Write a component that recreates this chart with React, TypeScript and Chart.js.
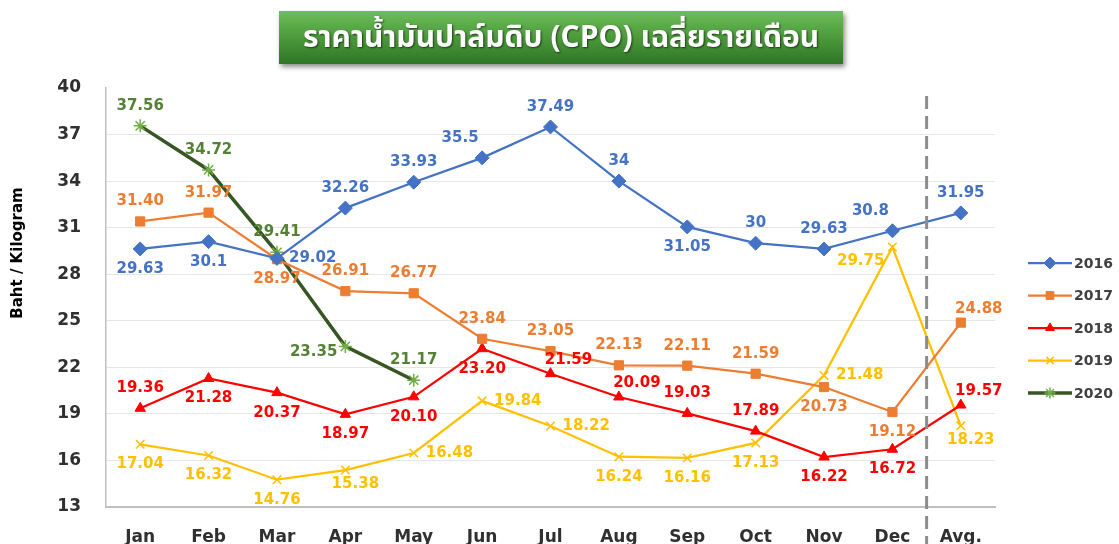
import React, { useEffect, useRef } from 'react';
import { Chart, registerables } from 'chart.js';
import { drawPoint } from 'chart.js/helpers';

Chart.register(...registerables);

const titleText = 'ราคาน้ำมันปาล์มดิบ (CPO) เฉลี่ยรายเดือน';
const yAxisTitle = 'Baht / Kilogram';
const categories = ['Jan', 'Feb', 'Mar', 'Apr', 'May', 'Jun', 'Jul', 'Aug', 'Sep', 'Oct', 'Nov', 'Dec', 'Avg.'];
const yMin = 13;
const yMax = 40;
const yStep = 3;

const seriesNames = ['2016', '2017', '2018', '2019', '2020'];
const values2016 = [29.63, 30.1, 29.02, 32.26, 33.93, 35.5, 37.49, 34, 31.05, 30, 29.63, 30.8, 31.95];
const values2017 = [31.4, 31.97, 28.97, 26.91, 26.77, 23.84, 23.05, 22.13, 22.11, 21.59, 20.73, 19.12, 24.88];
const values2018 = [19.36, 21.28, 20.37, 18.97, 20.1, 23.2, 21.59, 20.09, 19.03, 17.89, 16.22, 16.72, 19.57];
const values2019 = [17.04, 16.32, 14.76, 15.38, 16.48, 19.84, 18.22, 16.24, 16.16, 17.13, 21.48, 29.75, 18.23];
const values2020 = [37.56, 34.72, 29.41, 23.35, 21.17, null, null, null, null, null, null, null, null];

// label placement codes per point
const place2016 = ['b', 'b', 'r', 't', 't', 'tl', 't', 't', 'b', 't', 't', 'tl', 't'];
const place2017 = ['t', 't', 'b', 't', 't', 't', 't', 't', 't', 't', 'b', 'b', 'tr'];
const place2018 = ['t', 'b', 'b', 'b', 'b', 'b', 'tr', 'tr', 't', 't', 'b', 'b', 'tr'];
const place2019 = ['b', 'b', 'b', 'br', 'r', 'r', 'r', 'b', 'b', 'b', 'r', 'bl', 'br'];
const place2020 = ['t', 't', 't', 'l', 't', '', '', '', '', '', '', '', ''];

const FONT = '"DejaVu Sans", Verdana, sans-serif';

const labelFormats = [
  (v: number) => String(v),
  (v: number) => v.toFixed(2),
  (v: number) => v.toFixed(2),
  (v: number) => v.toFixed(2),
  (v: number) => v.toFixed(2),
];

const labelColors = ['#4472C4', '#ED7D31', '#FF0000', '#FFC000', '#548235'];
const placements = [place2016, place2017, place2018, place2019, place2020];

const dataLabelPlugin = {
  id: 'dataLabels',
  afterDatasetsDraw(chart: any) {
    const ctx = chart.ctx;
    ctx.save();
    ctx.font = `bold 15px ${FONT}`;
    ctx.textBaseline = 'middle';
    chart.data.datasets.forEach((ds: any, di: number) => {
      const meta = chart.getDatasetMeta(di);
      ctx.fillStyle = labelColors[di];
      ds.data.forEach((v: number | null, i: number) => {
        if (v === null || v === undefined) return;
        const el = meta.data[i];
        const p = placements[di][i];
        const txt = labelFormats[di](v);
        let x = el.x;
        let y = el.y;
        let align: CanvasTextAlign = 'center';
        switch (p) {
          case 't': y -= 20; break;
          case 'b': y += 20; break;
          case 'l': x -= 8; y += 6; align = 'right'; break;
          case 'r': x += 12; align = 'left'; break;
          case 'tl': x -= 22; y -= 20; break;
          case 'tr': x += 18; y -= 14; break;
          case 'bl': x -= 8; y += 14; align = 'right'; break;
          case 'br': x += 10; y += 14; break;
        }
        ctx.textAlign = align;
        ctx.fillText(txt, x, y);
      });
    });
    ctx.restore();
  },
};

const dividerPlugin = {
  id: 'divider',
  afterDraw(chart: any) {
    const ctx = chart.ctx;
    const xs = chart.scales.x;
    const x = (xs.getPixelForValue(categories.length - 2) + xs.getPixelForValue(categories.length - 1)) / 2;
    ctx.save();
    ctx.strokeStyle = '#8C8C8C';
    ctx.lineWidth = 3;
    ctx.setLineDash([13, 7]);
    ctx.beginPath();
    ctx.moveTo(x, chart.chartArea.top + 8);
    ctx.lineTo(x, chart.height);
    ctx.stroke();
    ctx.restore();
  },
};

const yTitlePlugin = {
  id: 'yTitle',
  afterDraw(chart: any) {
    const ctx = chart.ctx;
    ctx.save();
    ctx.translate(18, chart.chartArea.top + 165);
    ctx.rotate(-Math.PI / 2);
    ctx.font = `bold 15px ${FONT}`;
    ctx.fillStyle = '#000000';
    ctx.textAlign = 'center';
    ctx.textBaseline = 'middle';
    ctx.fillText(yAxisTitle, 0, 0);
    ctx.restore();
  },
};

const legendPlugin = {
  id: 'customLegend',
  afterDraw(chart: any) {
    const ctx = chart.ctx;
    const x0 = chart.chartArea.right + 33;
    const x1 = x0 + 44;
    const y0 = chart.chartArea.top + 175;
    ctx.save();
    chart.data.datasets.forEach((ds: any, i: number) => {
      const y = y0 + i * 32.5;
      ctx.strokeStyle = ds.borderColor;
      ctx.lineWidth = ds.borderWidth;
      ctx.setLineDash([]);
      ctx.beginPath();
      ctx.moveTo(x0, y);
      ctx.lineTo(x1, y);
      ctx.stroke();
      ctx.fillStyle = ds.pointBackgroundColor;
      ctx.strokeStyle = ds.pointBorderColor;
      ctx.lineWidth = ds.pointBorderWidth;
      drawPoint(ctx, { pointStyle: ds.pointStyle, radius: ds.pointRadius * 0.85, rotation: 0, borderWidth: ds.pointBorderWidth }, (x0 + x1) / 2, y);
      ctx.fillStyle = '#404040';
      ctx.font = `bold 14px ${FONT}`;
      ctx.textAlign = 'left';
      ctx.textBaseline = 'middle';
      ctx.fillText(ds.label, x1 + 2, y + 1);
    });
    ctx.restore();
  },
};

export default function App() {
  const canvasRef = useRef<HTMLCanvasElement | null>(null);

  useEffect(() => {
    document.body.style.margin = '0';
    const canvas = canvasRef.current;
    if (!canvas) return;

    const mk = (label: string, data: (number | null)[], color: string, ptColor: string, style: string, radius: number, width: number, pbw: number) => ({
      label,
      data,
      borderColor: color,
      backgroundColor: color,
      borderWidth: width,
      pointStyle: style,
      pointRadius: radius,
      pointBackgroundColor: ptColor,
      pointBorderColor: ptColor,
      pointBorderWidth: pbw,
      tension: 0,
      spanGaps: false,
    });

    const chart = new Chart(canvas, {
      type: 'line',
      data: {
        labels: categories,
        datasets: [
          mk(seriesNames[0], values2016, '#4472C4', '#4472C4', 'rectRot', 7, 2.25, 1),
          mk(seriesNames[1], values2017, '#ED7D31', '#ED7D31', 'rect', 6.5, 2.25, 1),
          mk(seriesNames[2], values2018, '#FF0000', '#FF0000', 'triangle', 6, 2.25, 1),
          mk(seriesNames[3], values2019, '#FFC000', '#FFC000', 'crossRot', 6, 2.25, 1.5),
          mk(seriesNames[4], values2020, '#375623', '#70AD47', 'star', 6.5, 3.5, 1.5),
        ] as any,
      },
      options: {
        animation: false,
        responsive: false,
        maintainAspectRatio: false,
        layout: { padding: { top: 88, right: 124, left: 0, bottom: 0 } },
        plugins: {
          legend: { display: false },
          title: { display: false },
          tooltip: { enabled: false },
        },
        scales: {
          x: {
            offset: true,
            grid: { display: false },
            border: { color: '#BFBFBF', width: 2 },
            ticks: {
              padding: 12,
              color: '#303030',
              font: { family: FONT, size: 17, weight: 'bold' },
              maxRotation: 0,
              autoSkip: false,
            },
            afterFit: (s: any) => { s.height = 37; },
          },
          y: {
            min: yMin,
            max: yMax,
            grid: {
              color: (c: any) => (c.tick && c.tick.value === yMax ? 'rgba(0,0,0,0)' : '#E6E6E6'),
              lineWidth: 1,
              drawTicks: false,
            },
            border: { color: '#BFBFBF', width: 1.5 },
            ticks: {
              stepSize: yStep,
              padding: 25,
              color: '#303030',
              font: { family: FONT, size: 17, weight: 'bold' },
            },
            title: { display: false },
            afterFit: (s: any) => { s.width = 106; },
          },
        },
      } as any,
      plugins: [dataLabelPlugin, dividerPlugin, legendPlugin, yTitlePlugin],
    });

    return () => chart.destroy();
  }, []);

  return (
    <div style={{ position: 'relative', width: 1119, height: 544, overflow: 'hidden', background: '#FFFFFF' }}>
      <canvas ref={canvasRef} width={1119} height={544} style={{ display: 'block' }} />
      <div
        style={{
          position: 'absolute',
          left: 279,
          top: 11,
          width: 564,
          height: 53,
          background: 'linear-gradient(180deg, #6DBE5B 0%, #4C9A3B 50%, #2F7526 100%)',
          boxShadow: '2px 3px 5px rgba(0,0,0,0.45)',
          display: 'flex',
          alignItems: 'center',
          justifyContent: 'center',
          color: '#FFFFFF',
          fontFamily: 'Tahoma, "Noto Sans Thai", "DejaVu Sans", sans-serif',
          fontWeight: 'bold',
          fontSize: 30,
          textShadow: '1px 1px 2px rgba(0,0,0,0.6)',
          whiteSpace: 'nowrap',
        }}
      >
        {titleText}
      </div>
    </div>
  );
}
